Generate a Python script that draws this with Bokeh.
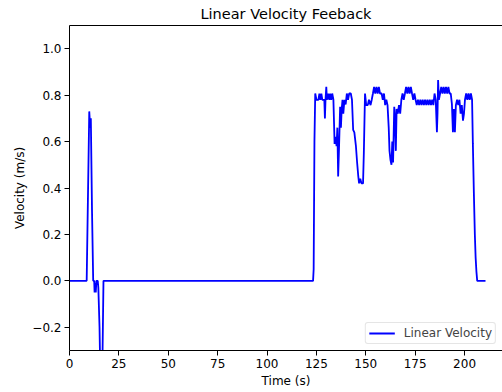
from bokeh.plotting import figure
from bokeh.models import LinearAxis, FixedTicker, CustomJSTickFormatter, Legend, LegendItem
from bokeh.embed import file_html
from bokeh.resources import INLINE

# ---- data ----
time_s = [0, 8.7, 10.0, 10.5, 10.8, 11.4, 12.0, 12.5, 12.7, 13.0, 13.3, 13.6, 14.3, 14.6,
          15.2, 15.6, 16.6, 17.2, 123.3,
          123.6, 124.0, 124.4, 125, 126, 126.5, 127, 127.5, 128, 129, 129.3, 129.6, 130, 130.3,
          131, 131.5, 132, 132.5, 133, 133.6, 134.2, 134.7, 135.2, 135.6, 136.0, 136.4, 137,
          137.4, 137.8, 138.2, 138.6, 139.2, 139.8, 140.4, 141, 141.6, 142.4, 143, 143.6, 144.2,
          145, 145.6, 146.2, 146.6, 147.2, 147.8, 148.6, 149, 149.6, 150.2, 151, 151.6, 152.4,
          153, 153.6, 154.2, 154.8, 155.4, 156, 156.6, 157.2, 158, 158.6, 159.2, 159.8, 160.4,
          161, 161.6, 162.0, 162.5, 163, 163.4, 163.8, 164.4, 164.8, 165.2, 165.6, 166.2, 166.8,
          167.4, 168, 168.6, 169.2, 169.8, 170.4, 171, 171.6, 172.2, 172.8, 173.4, 174, 174.6,
          175.2, 175.8, 176.4, 177, 177.6, 178.2, 178.8, 179.4, 180, 180.6, 181.2, 181.8, 182.4,
          183, 183.6, 184.2, 184.8, 185.4, 186, 186.3, 186.6, 187, 187.6, 188.2, 188.8, 189.4,
          190, 190.6, 191.2, 191.8, 192.4, 193, 193.6, 194.1, 194.6, 195.1, 195.6, 196.2, 196.8,
          197.4, 198, 198.6, 199.2, 199.7, 200.2, 200.8, 201.4, 202, 202.6, 203.2, 203.8, 204.2,
          204.7, 205.2, 205.6, 206, 206.4, 210.6]
velocity = [0, 0, 0.73, 0.66, 0.70, 0.30, 0, 0, -0.05, -0.01, -0.05, 0, 0, -0.03,
            -0.2, -0.4, -0.4, 0, 0,
            0.05, 0.6, 0.807, 0.78, 0.78, 0.807, 0.78, 0.807, 0.78, 0.78, 0.70, 0.78, 0.836, 0.78,
            0.807, 0.78, 0.807, 0.78, 0.807, 0.78, 0.59, 0.62, 0.58, 0.66, 0.45, 0.56, 0.75,
            0.66, 0.74, 0.78, 0.72, 0.78, 0.76, 0.807, 0.78, 0.807, 0.807, 0.78, 0.65, 0.64,
            0.58, 0.51, 0.45, 0.42, 0.44, 0.42, 0.42, 0.55, 0.807, 0.757, 0.757, 0.78, 0.757,
            0.78, 0.807, 0.836, 0.807, 0.836, 0.807, 0.836, 0.807, 0.807, 0.78, 0.807, 0.757, 0.78,
            0.757, 0.66, 0.56, 0.52, 0.50, 0.60, 0.51, 0.75, 0.70, 0.56, 0.74, 0.72, 0.757,
            0.72, 0.78, 0.807, 0.78, 0.807, 0.836, 0.807, 0.836, 0.807, 0.836, 0.807, 0.78, 0.807,
            0.78, 0.757, 0.78, 0.757, 0.78, 0.757, 0.78, 0.757, 0.78, 0.757, 0.78, 0.757, 0.78,
            0.757, 0.78, 0.757, 0.807, 0.78, 0.64, 0.72, 0.865, 0.78, 0.807, 0.836, 0.807, 0.836,
            0.807, 0.836, 0.807, 0.836, 0.807, 0.807, 0.76, 0.64, 0.74, 0.64, 0.757, 0.78, 0.757,
            0.78, 0.72, 0.757, 0.69, 0.72, 0.78, 0.807, 0.78, 0.807, 0.78, 0.807, 0.78, 0.59,
            0.38, 0.20, 0.10, 0.04, 0, 0]

x_ticks = [0, 25, 50, 75, 100, 125, 150, 175, 200, 225]
y_ticks = [-0.2, 0.0, 0.2, 0.4, 0.6, 0.8, 1.0]
title_text = "Linear Velocity Feeback"
x_label = "Time (s)"
y_label = "Velocity (m/s)"
series_name = "Linear Velocity"

FONT = "DejaVu Sans"

p = figure(width=502, height=392, x_range=(0, 219.2), y_range=(-0.3, 1.1),
           output_backend="svg", toolbar_location=None,
           min_border_left=69, min_border_right=0, min_border_top=25, min_border_bottom=42,
           x_axis_location=None, y_axis_location=None)
p.title.text = title_text
p.title.text_font = FONT
p.title.text_font_size = "14.5px"
p.title.text_font_style = "normal"
p.title.text_color = "black"
p.title.align = "center"
p.title.standoff = 7
p.outline_line_color = None
p.xgrid.visible = False
p.ygrid.visible = False
p.background_fill_color = "white"
p.border_fill_color = "white"

def style_axis(ax):
    ax.axis_line_color = "black"
    ax.axis_line_width = 1
    ax.major_tick_line_color = "black"
    ax.major_tick_out = 5
    ax.major_tick_in = 0
    ax.minor_tick_line_color = None
    ax.major_label_text_font = FONT
    ax.major_label_text_font_size = "12px"
    ax.major_label_text_color = "black"
    ax.major_label_standoff = 3
    ax.axis_label_text_font = FONT
    ax.axis_label_text_font_size = "12px"
    ax.axis_label_text_font_style = "normal"
    ax.axis_label_text_color = "black"

xaxis = LinearAxis(ticker=FixedTicker(ticks=x_ticks), axis_label=x_label,
                   formatter=CustomJSTickFormatter(code="return tick.toFixed(0);"))
style_axis(xaxis)
xaxis.axis_label_standoff = 3
p.add_layout(xaxis, "below")

yaxis = LinearAxis(ticker=FixedTicker(ticks=y_ticks), axis_label=y_label,
                   formatter=CustomJSTickFormatter(code="return tick.toFixed(1).replace('-', '\u2212');"))
style_axis(yaxis)
yaxis.axis_label_standoff = 2
p.add_layout(yaxis, "left")

top = LinearAxis(ticker=FixedTicker(ticks=[]))
top.axis_line_color = "black"
top.major_tick_out = 0
top.major_tick_in = 0
top.minor_tick_out = 0
top.minor_tick_in = 0
top.major_label_standoff = 0
top.major_label_text_font_size = "0px"
p.add_layout(top, "above")

r = p.line(time_s, velocity, line_color="#0000ff", line_width=1.8)

legend = Legend(items=[LegendItem(label=series_name, renderers=[r])], location="bottom_right")
legend.margin = 6
legend.padding = 3
legend.spacing = 0
legend.glyph_width = 26
legend.glyph_height = 14
legend.label_height = 14
legend.label_standoff = 9
legend.label_text_font = FONT
legend.label_text_font_size = "12px"
legend.border_line_color = "#cccccc"
legend.border_line_width = 1
legend.border_radius = 3
legend.background_fill_alpha = 0.8
p.add_layout(legend, "center")

open("out.html", "w").write(file_html(p, INLINE))
